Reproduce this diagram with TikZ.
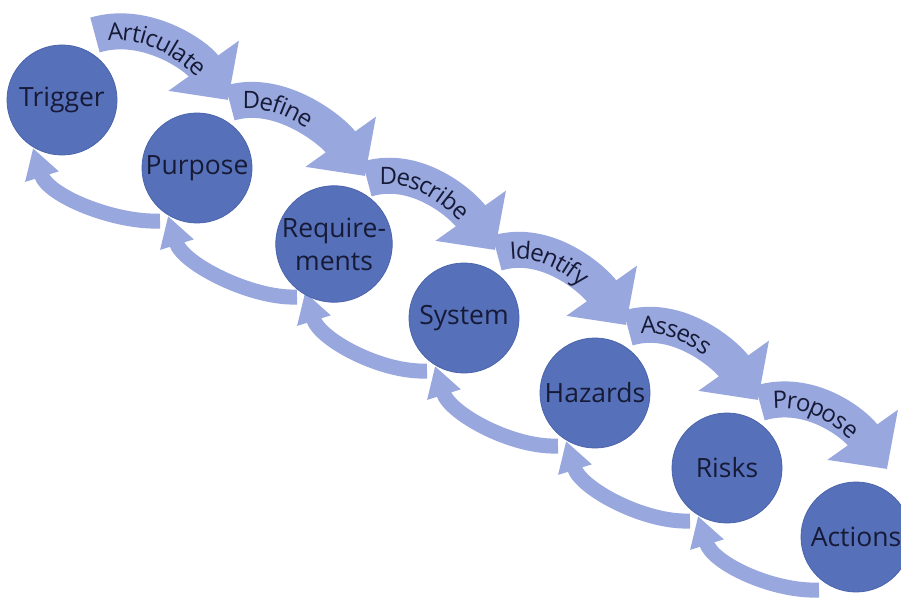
\documentclass[tikz,border=0pt]{standalone}
\usepackage{fontspec}
\setmainfont{Open Sans}
\usetikzlibrary{arrows.meta,calc,decorations.text}

\definecolor{disc}{RGB}{86,113,186}
\definecolor{discedge}{RGB}{74,99,170}
\definecolor{band}{RGB}{152,167,221}
\definecolor{ink}{RGB}{22,26,54}

\pgfdeclarelayer{front}
\pgfsetlayers{main,front}

\newcommand\bandfont{\fontsize{24}{27}\selectfont}

\tikzset{
  stage/.style={circle, fill=disc, draw=discedge, line width=0.8pt,
    minimum size=110pt, inner sep=0pt, text=ink, align=center,
    font=\fontsize{26.5}{33}\selectfont},
  fwd/.style={draw=band, line width=36pt, -{Triangle[width=84pt,length=42pt]}},
  back/.style={draw=band, line width=15pt, -{Triangle[width=33pt,length=30pt]}},
  steptext/.style={decorate, decoration={text along path,
    text align={left indent=13pt}, raise=-9pt, text color=ink}},
}

% wide curved arrow over the top, with its verb written along it
\newcommand\forwardarrow[3]{%
  \draw[fwd] ($(#1)+(33,65)$) .. controls ($(#1)+(83,80)$) and ($(#2)+(-1,113)$) .. ($(#2)+(31,68)$);
  \path[steptext, decoration={text={|\bandfont|#3}}]
    ($(#1)+(33,65)$) .. controls ($(#1)+(83,80)$) and ($(#2)+(-1,113)$) .. ($(#2)+(31,68)$);
}
% thin return arrow underneath, from a later stage back to the earlier one
\newcommand\backarrow[2]{%
  \draw[back] ($(#1)+(-37,-53)$) .. controls ($(#1)+(-82,-55)$) and ($(#2)+(-14,-96)$) .. ($(#2)+(-29,-48)$);
}

\begin{document}
\begin{tikzpicture}[x=1pt,y=1pt]
  \fill[white] (0,0) rectangle (901,-601);
  \useasboundingbox (0,0) rectangle (901,-601);
  \clip (0,0) rectangle (901,-601);

  % the seven stages, kept above the arrows
  \begin{pgfonlayer}{front}
    \node[stage] (t1) at (62,-100)  {Trigger};
    \node[stage] (t2) at (197,-168) {Purpose};
    \node[stage] (t3) at (334,-244) {Require-\\ments};
    \node[stage] (t4) at (464,-318) {System};
    \node[stage] (t5) at (595,-393) {Hazards};
    \node[stage] (t6) at (727,-468) {Risks};
    \node[stage] (t7) at (856,-537) {Actions};
  \end{pgfonlayer}

  \backarrow{t2}{t1}
  \backarrow{t3}{t2}
  \backarrow{t4}{t3}
  \backarrow{t5}{t4}
  \backarrow{t6}{t5}
  \backarrow{t7}{t6}

  \forwardarrow{t1}{t2}{Articulate}
  \forwardarrow{t2}{t3}{Define}
  \forwardarrow{t3}{t4}{Describe}
  \forwardarrow{t4}{t5}{Identify}
  \forwardarrow{t5}{t6}{Assess}
  \forwardarrow{t6}{t7}{Propose}
\end{tikzpicture}
\end{document}
